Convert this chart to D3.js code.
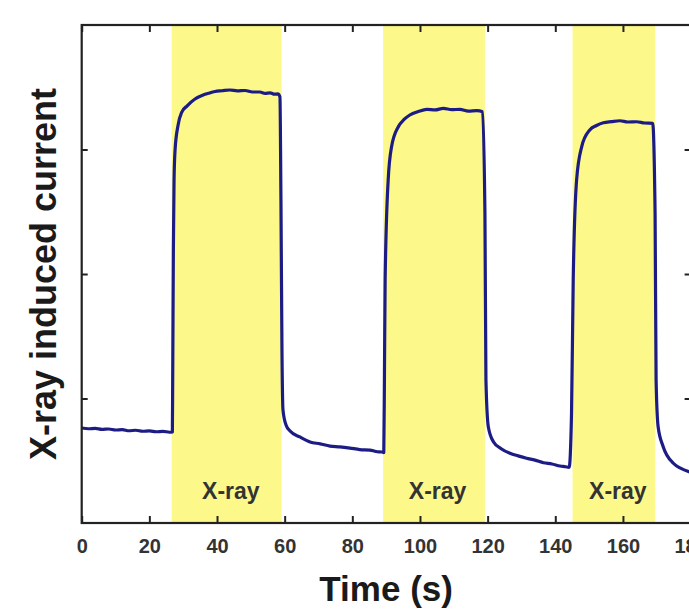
<!DOCTYPE html>
<html>
<head>
<meta charset="utf-8">
<script src="https://cdn.jsdelivr.net/npm/d3@7"></script>
<style>
  body { margin: 0; background: #fff; }
  svg text { font-family: "Liberation Sans", Arial, sans-serif; font-weight: bold; }
</style>
</head>
<body>
<svg width="689" height="615"></svg>
<script>
const tijd = [
  0, 2, 4, 6, 8, 10, 12, 14, 16, 18, 20, 22, 24, 26, 26.8,
  26.9, 27.1, 27.3, 27.6, 28.5, 29.6, 31.1, 33.5, 35.9, 37.5, 39.4, 41.5, 43.8, 46, 48.3,
  50.5, 52.7, 54.2, 55.7, 57, 58, 58.6,
  58.9, 59.2, 59.5, 60.4, 61.6, 64.5, 67.5, 70.5, 73.4, 76.3, 79.3, 82.2, 85.2, 87, 88.8, 89.3,
  89.5, 89.7, 90.6, 91.6, 93.6, 95.3, 97, 99.5, 102, 104.5, 106.9, 109.4, 111.8, 114.3, 116.8, 118.5,
  119.2, 119.5, 120.2, 121.7, 124, 126.6, 129, 131.5, 134, 136.5, 139, 141.4, 143, 144.1,
  144.8, 145.3, 146.3, 147.8, 150.2, 152.2, 154.2, 156.6, 159.1, 161.5, 164, 166.4, 168.8,
  169.5, 169.8, 170.4, 171.9, 174.9, 177, 179.5, 180
]

const stroom = [
  0.763, 0.757, 0.760, 0.752, 0.755, 0.747, 0.750, 0.741, 0.745, 0.737, 0.740, 0.733, 0.736, 0.729, 0.732,
  1.149, 2.193, 2.755, 2.996, 3.197, 3.301, 3.349, 3.406, 3.438, 3.452, 3.466, 3.472, 3.478, 3.471, 3.474,
  3.462, 3.462, 3.451, 3.455, 3.444, 3.446, 3.422,
  2.594, 1.390, 0.908, 0.787, 0.739, 0.691, 0.651, 0.636, 0.618, 0.612, 0.602, 0.590, 0.586, 0.574, 0.570, 0.566,
  1.200, 1.952, 2.755, 3.022, 3.183, 3.241, 3.277, 3.305, 3.323, 3.318, 3.331, 3.320, 3.323, 3.309, 3.312, 3.304,
  2.490, 1.149, 0.773, 0.653, 0.597, 0.560, 0.539, 0.520, 0.505, 0.484, 0.474, 0.458, 0.452, 0.447,
  0.884, 1.952, 2.755, 3.022, 3.157, 3.193, 3.215, 3.224, 3.231, 3.221, 3.223, 3.213, 3.210,
  2.490, 1.149, 0.773, 0.613, 0.480, 0.440, 0.412, 0.408
]

// Periodes waarin de röntgenbron aan staat
const bandStart = [26.6, 89.1, 145.1]
const bandEind = [59.1, 119.2, 169.5]
const bandLabel = ["X-ray", "X-ray", "X-ray"]
const labelTijd = [44.1, 105.2, 158.5]

const xTicks = [0, 20, 40, 60, 80, 100, 120, 140, 160, 180]
const yTicks = [1, 2, 3]

const svg = d3.select("svg")

const margin = { top: 25, left: 81.7 }
const innerWidth = 608.9
const innerHeight = 498

const xScale = d3.scaleLinear()
  .domain([0, 180])
  .range([0, innerWidth])

const yScale = d3.scaleLinear()
  .domain([0, 4])
  .range([innerHeight, 0])

const g = svg.append("g")
  .attr("transform", `translate(${margin.left},${margin.top})`)

// Gele banden voor X-ray aan
const banden = bandStart.map((s, i) => ({ start: s, eind: bandEind[i], label: bandLabel[i], t: labelTijd[i] }))

g.selectAll("rect.band")
  .data(banden)
  .enter()
  .append("rect")
  .attr("class", "band")
  .attr("x", d => xScale(d.start))
  .attr("y", 0)
  .attr("width", d => xScale(d.eind) - xScale(d.start))
  .attr("height", innerHeight)
  .attr("fill", "#fcf98a")

g.selectAll("text.band")
  .data(banden)
  .enter()
  .append("text")
  .attr("class", "band")
  .attr("x", d => xScale(d.t))
  .attr("y", 474)
  .attr("text-anchor", "middle")
  .style("font-size", "23px")
  .attr("fill", "#333")
  .text(d => d.label)

// De meetcurve
const punten = tijd.map((t, i) => [t, stroom[i]])

const lijn = d3.line()
  .x(d => xScale(d[0]))
  .y(d => yScale(d[1]))
  .curve(d3.curveMonotoneX)

g.append("path")
  .datum(punten)
  .attr("fill", "none")
  .attr("stroke", "#1c1c84")
  .attr("stroke-width", 3.2)
  .attr("stroke-linejoin", "round")
  .attr("d", lijn)

// Assen met ticks naar binnen
const xAxis = d3.axisBottom(xScale)
  .tickValues(xTicks)
  .tickSize(-7)
  .tickPadding(15.8)

const xAxisTop = d3.axisTop(xScale)
  .tickValues(xTicks)
  .tickSize(-7)

const yAxis = d3.axisLeft(yScale)
  .tickValues(yTicks)
  .tickSize(-6)

const yAxisRight = d3.axisRight(yScale)
  .tickValues(yTicks)
  .tickSize(-6)

const xg = g.append("g")
  .attr("transform", `translate(0,${innerHeight})`)
  .call(xAxis)

const tg = g.append("g").call(xAxisTop)
const lg = g.append("g").call(yAxis)
const rg = g.append("g")
  .attr("transform", `translate(${innerWidth},0)`)
  .call(yAxisRight)

// Alleen de onderste as krijgt getallen
tg.selectAll("text").remove()
lg.selectAll("text").remove()
rg.selectAll("text").remove()

g.selectAll(".domain").remove()
g.selectAll(".tick line")
  .attr("stroke", "#222")
  .attr("stroke-width", 2)

xg.selectAll("text")
  .style("font-size", "20px")
  .attr("fill", "#333")

// Kader rond het plotgebied
g.append("rect")
  .attr("width", innerWidth)
  .attr("height", innerHeight)
  .attr("fill", "none")
  .attr("stroke", "#222")
  .attr("stroke-width", 2.2)

// Aslabels
svg.append("text")
  .attr("x", margin.left + innerWidth / 2)
  .attr("y", 601)
  .attr("text-anchor", "middle")
  .style("font-size", "35px")
  .attr("fill", "#1a1a1a")
  .text("Time (s)")

svg.append("text")
  .attr("transform", `translate(56,${margin.top + innerHeight / 2}) rotate(-90)`)
  .attr("text-anchor", "middle")
  .style("font-size", "36px")
  .attr("fill", "#1a1a1a")
  .text("X-ray induced current")
</script>
</body>
</html>
